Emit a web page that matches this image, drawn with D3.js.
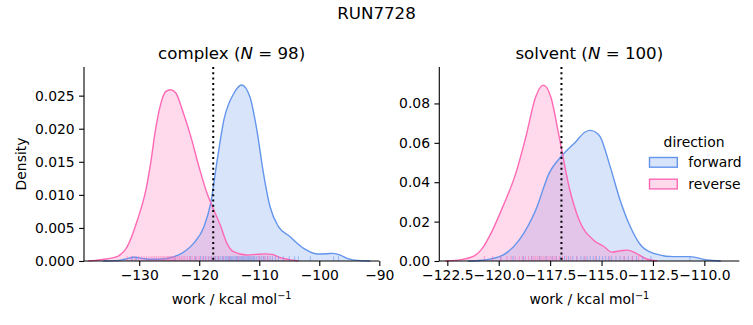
<!DOCTYPE html>
<html><head><meta charset="utf-8">
<script src="https://cdn.jsdelivr.net/npm/d3@7"></script>
<style>
html,body{margin:0;padding:0;background:#fff;}
svg{display:block;font-family:"DejaVu Sans",sans-serif;}
</style></head>
<body>
<script>
// ---- data ----
const suptitle = "RUN7728";
const directions = ["forward", "reverse"];
const colors = {forward: "#6495ED", reverse: "#FF69B4"};

// complex panel: KDE curves [work, density]
const complexForwardCurve = [[-136,0],[-133.7,0.00005],[-132.3,0.0003],[-130.9,0.00056],[-129.5,0.0004],[-128.1,0.00026],[-126,0.0003],[-124.2,0.00065],[-122.5,0.0014],[-120.9,0.0027],[-119.2,0.0052],[-118.1,0.0087],[-117.0,0.0153],[-115.9,0.0213],[-114.2,0.0254],[-112.95,0.0266],[-111.55,0.0248],[-110.4,0.0198],[-109.3,0.01326],[-108.2,0.0082],[-106.8,0.0052],[-104.9,0.0037],[-102.6,0.0019],[-100.4,0.00106],[-98.7,0.0011],[-97.7,0.00116],[-96.5,0.0009],[-95.4,0.0004],[-93.2,0.00005],[-91.5,0]];
const complexReverseCurve = [[-138.5,0],[-137.3,0.0001],[-135.5,0.0003],[-133.7,0.00065],[-132.0,0.00216],[-130.3,0.0062],[-128.9,0.0107],[-128.1,0.01477],[-127.3,0.0198],[-126.4,0.0238],[-125.6,0.0256],[-124.77,0.0259],[-123.9,0.0254],[-122.8,0.0228],[-121.4,0.0188],[-120.05,0.01426],[-118.7,0.01024],[-117.8,0.0082],[-116.4,0.0052],[-115.4,0.0027],[-114.3,0.0014],[-112.1,0.0009],[-110.5,0.0010],[-109.0,0.00108],[-107.9,0.001],[-106.5,0.0005],[-105,0.0002],[-103.5,0]];
const complexForwardRug = [-131.2,-130.5,-124.0,-121.5,-120.6,-119.8,-119.3,-118.9,-118.4,-118.0,-117.6,-117.3,-117.0,-116.7,-116.4,-116.1,-115.9,-115.6,-115.4,-115.2,-115.0,-114.8,-114.6,-114.4,-114.2,-114.0,-113.8,-113.6,-113.4,-113.2,-113.0,-112.8,-112.6,-112.4,-112.2,-112.0,-111.8,-111.6,-111.4,-111.2,-111.0,-110.8,-110.5,-110.2,-109.9,-109.6,-109.3,-109.0,-108.6,-108.2,-107.8,-107.3,-106.8,-106.0,-105.0,-104.1,-103.5,-101.5,-97.6,-96.8];
const complexReverseRug = [-132.0,-131.3,-130.7,-130.1,-129.6,-129.2,-128.8,-128.4,-128.0,-127.7,-127.4,-127.1,-126.8,-126.5,-126.2,-126.0,-125.8,-125.5,-125.3,-125.1,-124.9,-124.7,-124.5,-124.3,-124.1,-123.9,-123.6,-123.3,-123.0,-122.7,-122.4,-122.0,-121.6,-121.2,-120.8,-120.4,-120.0,-119.5,-119.0,-118.5,-118.0,-117.4,-116.8,-116.0,-115.0,-113.5,-110.0,-109.2,-108.6];
const complexTicksX = [-130,-120,-110,-100,-90];
const complexTicksY = [0,0.005,0.010,0.015,0.020,0.025];
const complexMarker = -117.67;

// solvent panel
const solventForwardCurve = [[-121.5,0],[-120.8,0.0004],[-119.8,0.003],[-119.0,0.0107],[-118.2,0.0259],[-117.55,0.0445],[-116.9,0.0538],[-116.25,0.0606],[-115.8,0.0655],[-115.55,0.0663],[-115.3,0.0655],[-115.07,0.0631],[-114.58,0.0479],[-114.1,0.031],[-113.6,0.0174],[-113.1,0.0081],[-112.47,0.0039],[-111.5,0.0022],[-110.7,0.0022],[-109.88,0.0005],[-109.2,0]];
const solventReverseCurve = [[-122.6,0],[-122.1,0.0003],[-121.27,0.0022],[-120.8,0.0064],[-120.3,0.0157],[-119.8,0.0276],[-119.17,0.0445],[-118.68,0.0631],[-118.2,0.0834],[-117.83,0.0893],[-117.47,0.0834],[-117.06,0.0631],[-116.58,0.0377],[-116.09,0.0208],[-115.4,0.0107],[-114.9,0.0075],[-114.5,0.0045],[-114.0,0.0053],[-113.75,0.0055],[-113.3,0.0038],[-112.8,0.0010],[-112.3,0]];
const solventForwardRug = [-119.9,-119.3,-118.8,-118.4,-118.0,-117.7,-117.4,-117.2,-117.0,-116.8,-116.6,-116.4,-116.2,-116.0,-115.85,-115.7,-115.55,-115.4,-115.25,-115.1,-114.95,-114.8,-114.65,-114.5,-114.3,-114.1,-113.9,-113.7,-113.5,-113.3,-113.0,-112.6,-110.7];
const solventReverseRug = [-120.7,-120.3,-119.9,-119.6,-119.4,-119.2,-119.0,-118.85,-118.7,-118.55,-118.4,-118.3,-118.2,-118.1,-118.0,-117.9,-117.8,-117.7,-117.6,-117.5,-117.4,-117.3,-117.2,-117.05,-116.9,-116.7,-116.5,-116.2,-115.8,-115.3,-114.6,-113.9,-113.5,-113.2];
const solventTicksX = [-122.5,-120.0,-117.5,-115.0,-112.5,-110.0];
const solventTicksY = [0,0.02,0.04,0.06,0.08];
const solventMarker = -116.95;

// ---- drawing ----
const W = 753, H = 325;
const svg = d3.select("body").append("svg").attr("width", W).attr("height", H);
const fs = 13.9;
const minus = s => s.replace(/-/g, "\u2212");

const panels = [
  {name:"complex", n:98, x0:84, x1:379.3, xdom:[-139.2,-90.0], ydom:[0,0.02933],
   curves:{forward:complexForwardCurve, reverse:complexReverseCurve},
   rugs:{forward:complexForwardRug, reverse:complexReverseRug},
   ticksX:complexTicksX, ticksY:complexTicksY, fx:d3.format(".0f"), fy:d3.format(".3f"),
   marker:complexMarker, ylabel:true},
  {name:"solvent", n:100, x0:439.3, x1:739.3, xdom:[-122.89,-108.3], ydom:[0,0.0985],
   curves:{forward:solventForwardCurve, reverse:solventReverseCurve},
   rugs:{forward:solventForwardRug, reverse:solventReverseRug},
   ticksX:solventTicksX, ticksY:solventTicksY, fx:d3.format(".1f"), fy:d3.format(".2f"),
   marker:solventMarker, ylabel:false}
];
const yTop = 67, yBot = 261;

svg.append("text").attr("x", 376.5).attr("y", 19).attr("text-anchor","middle")
  .attr("font-size", 16.67).text(suptitle);

panels.forEach(p => {
  const x = d3.scaleLinear().domain(p.xdom).range([p.x0, p.x1]);
  const y = d3.scaleLinear().domain(p.ydom).range([yBot, yTop]);
  const g = svg.append("g");

  const area = d3.area().x(d=>x(d[0])).y0(y(0)).y1(d=>y(d[1])).curve(d3.curveMonotoneX);
  const line = d3.line().x(d=>x(d[0])).y(d=>y(d[1])).curve(d3.curveMonotoneX);

  directions.forEach(dir => {
    g.append("path").attr("d", area(p.curves[dir])).attr("fill", colors[dir]).attr("fill-opacity", 0.25);
  });
  directions.forEach(dir => {
    g.append("path").attr("d", line(p.curves[dir])).attr("fill","none")
      .attr("stroke", colors[dir]).attr("stroke-width", 1.4);
  });
  // rugs
  directions.forEach(dir => {
    g.selectAll(null).data(p.rugs[dir]).enter().append("line")
      .attr("x1", d=>x(d)).attr("x2", d=>x(d))
      .attr("y1", yBot).attr("y2", yBot-4.9)
      .attr("stroke", colors[dir]).attr("stroke-width", 1).attr("stroke-opacity", 0.55);
  });
  // marker
  g.append("line").attr("x1", x(p.marker)).attr("x2", x(p.marker))
    .attr("y1", yTop).attr("y2", yBot).attr("stroke","#000")
    .attr("stroke-width", 2).attr("stroke-dasharray","2,3.3");

  // axes
  const xa = d3.axisBottom(x).tickValues(p.ticksX).tickFormat(d=>minus(p.fx(d))).tickSize(4.9).tickPadding(4.4);
  const ya = d3.axisLeft(y).tickValues(p.ticksY).tickFormat(d=>minus(p.fy(d))).tickSize(4.9).tickPadding(4.4);
  const gx = g.append("g").attr("transform", `translate(0,${yBot})`).call(xa);
  const gy = g.append("g").attr("transform", `translate(${p.x0},0)`).call(ya);
  [gx, gy].forEach(a => {
    a.select(".domain").attr("stroke","#000").attr("stroke-width",1.1)
      .attr("d", a===gx ? `M${p.x0},0H${p.x1}` : `M0,${yBot}V${yTop}`);
    a.selectAll(".tick line").attr("stroke","#000").attr("stroke-width",1.1);
    a.selectAll(".tick text").attr("fill","#000").attr("font-size", fs)
      .attr("font-family", "DejaVu Sans");
  });

  // title
  const cx = (p.x0+p.x1)/2;
  const t = g.append("text").attr("x", cx).attr("y", 59).attr("text-anchor","middle").attr("font-size",16.67);
  t.append("tspan").text(p.name + " (");
  t.append("tspan").attr("font-style","italic").text("N");
  t.append("tspan").text(" = " + p.n + ")");

  // xlabel
  const xl = g.append("text").attr("x", cx).attr("y", 304).attr("text-anchor","middle").attr("font-size", fs);
  xl.append("tspan").text("work / kcal mol");
  xl.append("tspan").attr("font-size", fs*0.7).attr("dy", -5).text("\u22121");

  if (p.ylabel) {
    g.append("text").attr("transform", `translate(26,164) rotate(-90)`)
      .attr("text-anchor","middle").attr("font-size", fs).text("Density");
  }
});

// legend
const lg = svg.append("g");
lg.append("text").attr("x", 694).attr("y", 146.5).attr("text-anchor","middle").attr("font-size", fs).text("direction");
directions.forEach((dir,i) => {
  const yy = 157.5 + i*21.7;
  lg.append("rect").attr("x", 649.5).attr("y", yy).attr("width", 27.8).attr("height", 9.7)
    .attr("fill", colors[dir]).attr("fill-opacity", 0.25).attr("stroke", colors[dir]).attr("stroke-width", 1.4);
  lg.append("text").attr("x", 688.3).attr("y", yy + 9.5).attr("font-size", fs).text(dir);
});
</script>
</body></html>
